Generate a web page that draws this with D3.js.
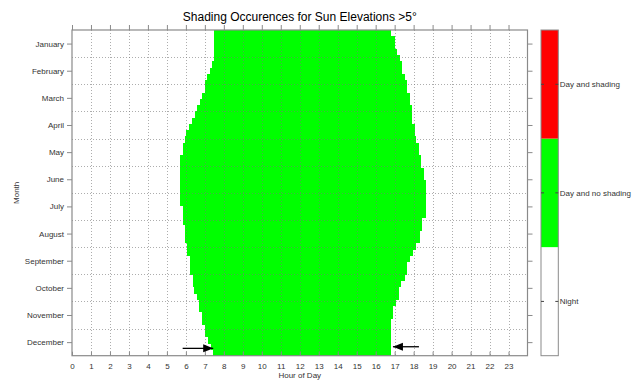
<!DOCTYPE html>
<html><head><meta charset="utf-8">
<script src="https://cdn.jsdelivr.net/npm/d3@7"></script>
<style>
html,body{margin:0;padding:0;background:#fff;}
text{font-family:"Liberation Sans",Arial,sans-serif;}
</style></head>
<body>
<svg id="chart" width="640" height="382"></svg>
<script>
const months = ["January","February","March","April","May","June","July","August","September","October","November","December"];
const hourTicks = d3.range(0,24);
// weekly rows (52), start and end of "day and no shading" in hours
const sunrise = [7.5,7.5,7.5,7.5,7.5,7.4,7.27,7.13,7.0,7.0,6.87,6.73,6.6,6.47,6.3,6.17,6.03,5.95,5.83,5.83,5.68,5.68,5.68,5.68,5.68,5.68,5.68,5.68,5.83,5.83,5.83,5.95,5.95,5.95,6.07,6.07,6.2,6.2,6.2,6.35,6.35,6.45,6.56,6.7,6.7,6.83,6.83,7.0,7.0,7.17,7.35,7.45];
const sunset = [16.83,17.0,17.0,17.12,17.26,17.38,17.38,17.53,17.65,17.65,17.79,17.79,17.93,17.93,17.93,18.05,18.05,18.14,18.28,18.28,18.41,18.41,18.53,18.53,18.63,18.63,18.63,18.63,18.63,18.63,18.45,18.45,18.32,18.32,18.14,17.97,17.79,17.65,17.65,17.53,17.35,17.23,17.23,17.05,16.91,16.91,16.79,16.79,16.79,16.79,16.79,16.79];
const legendCats = ["Night","Day and no shading","Day and shading"];
const legendColors = ["#ffffff","#00ff00","#ff0000"];
// annotation arrows: [fromHour, toHour, monthPosition]
const arrowFrom = [5.83, 18.28];
const arrowTo = [7.44, 16.91];
const arrowMonth = [11.73, 11.67];

(function(){
const svg = d3.select("#chart");
const L=72, R=527.5, T=30, B=355.7;
const x = d3.scaleLinear().domain([0,24]).range([L,R]);
const y = d3.scaleLinear().domain([0,12]).range([T,B]);
const nRows = sunrise.length;
const rows = sunrise.map((s,i)=>({s, e:sunset[i], y0:12*i/nRows, y1:12*(i+1)/nRows}));

const defs = svg.append("defs");
defs.append("marker").attr("id","ah").attr("viewBox","0 0 10 10").attr("refX",10).attr("refY",5)
  .attr("markerWidth",10).attr("markerHeight",10).attr("markerUnits","userSpaceOnUse").attr("orient","auto")
  .append("path").attr("d","M0,1 L10,5 L0,9 Z").attr("fill","#000");

// green day region
svg.append("g").selectAll("rect").data(rows).join("rect")
  .attr("x",d=>x(d.s)).attr("width",d=>x(d.e)-x(d.s))
  .attr("y",d=>y(d.y0)).attr("height",d=>y(d.y1)-y(d.y0)+0.5)
  .attr("fill","#00ff00").attr("shape-rendering","crispEdges");

// grid
const grid = svg.append("g").attr("stroke","#777").attr("stroke-opacity",0.6).attr("stroke-width",1).attr("stroke-dasharray","1,2");
grid.selectAll(".vg").data(d3.range(1,24)).join("line")
  .attr("x1",d=>Math.round(x(d))+0.5).attr("x2",d=>Math.round(x(d))+0.5).attr("y1",T).attr("y2",B);
grid.selectAll(".hg").data(d3.range(1,12)).join("line")
  .attr("y1",d=>Math.round(y(d))+0.5).attr("y2",d=>Math.round(y(d))+0.5).attr("x1",L).attr("x2",R);

// axes
const axCol="#8a8a8a";
const gBottom = svg.append("g").attr("transform",`translate(0,${B})`)
  .call(d3.axisBottom(x).tickValues(hourTicks).tickSizeInner(-4).tickSizeOuter(0).tickPadding(8));
const gTop = svg.append("g").attr("transform",`translate(0,${T})`)
  .call(d3.axisTop(x).tickValues(hourTicks).tickSize(5).tickFormat(""));
const monthPos = months.map((m,i)=>i+0.5);
const gLeft = svg.append("g").attr("transform",`translate(${L},0)`)
  .call(d3.axisLeft(y).tickValues(monthPos).tickFormat((d,i)=>months[i]).tickSize(5).tickPadding(3));
const gRight = svg.append("g").attr("transform",`translate(${R},0)`)
  .call(d3.axisRight(y).tickValues(monthPos).tickSize(5).tickFormat(""));
[gBottom,gTop,gLeft,gRight].forEach(g=>{
  g.select(".domain").remove();
  g.selectAll(".tick line").attr("stroke",axCol);
  g.selectAll("text").attr("fill","#333").style("font-size","8px");
});
// frame
svg.append("rect").attr("x",L).attr("y",T).attr("width",R-L).attr("height",B-T)
  .attr("fill","none").attr("stroke",axCol).attr("stroke-width",1.2);

// arrows
svg.append("g").selectAll("line").data(arrowFrom).join("line")
  .attr("x1",(d,i)=>x(d)).attr("x2",(d,i)=>x(arrowTo[i]))
  .attr("y1",(d,i)=>y(arrowMonth[i])).attr("y2",(d,i)=>y(arrowMonth[i]))
  .attr("stroke","#000").attr("stroke-width",1.3).attr("marker-end","url(#ah)");

// title & labels
svg.append("text").attr("x",(L+R)/2).attr("y",21).attr("text-anchor","middle")
  .style("font-size","12px").attr("fill","#000").text("Shading Occurences for Sun Elevations >5°");
svg.append("text").attr("x",(L+R)/2).attr("y",378).attr("text-anchor","middle")
  .style("font-size","8px").attr("fill","#333").text("Hour of Day");
svg.append("text").attr("transform",`translate(19,${(T+B)/2}) rotate(-90)`).attr("text-anchor","middle")
  .style("font-size","8px").attr("fill","#333").text("Month");

// colorbar
const cbL=541, cbR=558.3;
const cy = d3.scaleBand().domain(legendCats).range([B,T]).paddingInner(0).paddingOuter(0);
svg.append("g").selectAll("rect").data(legendCats).join("rect")
  .attr("x",cbL).attr("width",cbR-cbL).attr("y",d=>cy(d)).attr("height",cy.bandwidth())
  .attr("fill",(d,i)=>legendColors[i]);
svg.append("rect").attr("x",cbL).attr("y",T).attr("width",cbR-cbL).attr("height",B-T)
  .attr("fill","none").attr("stroke",axCol).attr("stroke-width",1);
const cbt = svg.append("g");
cbt.selectAll(".l").data(legendCats).join("line")
  .attr("x1",cbL).attr("x2",cbL+3).attr("y1",d=>cy(d)+cy.bandwidth()/2).attr("y2",d=>cy(d)+cy.bandwidth()/2)
  .attr("stroke","#444");
cbt.selectAll(".r").data(legendCats).join("line")
  .attr("x1",cbR-3).attr("x2",cbR).attr("y1",d=>cy(d)+cy.bandwidth()/2).attr("y2",d=>cy(d)+cy.bandwidth()/2)
  .attr("stroke","#444");
cbt.selectAll("text").data(legendCats).join("text")
  .attr("x",cbR+1.5).attr("y",d=>cy(d)+cy.bandwidth()/2).attr("dy","0.35em")
  .style("font-size","8px").attr("fill","#333").text(d=>d);
})();
</script>
</body></html>
